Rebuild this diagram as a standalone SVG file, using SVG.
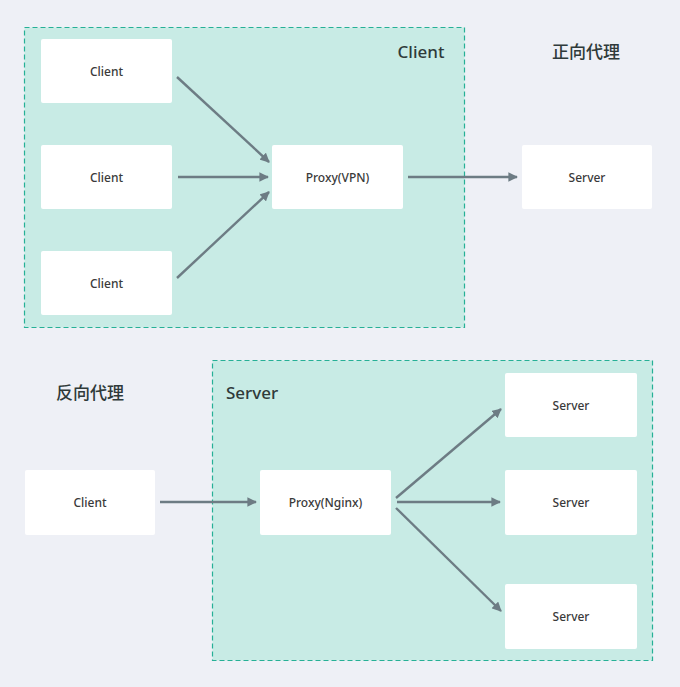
<svg xmlns="http://www.w3.org/2000/svg" width="680" height="687" viewBox="0 0 680 687">
<defs>
<style>
.grp{fill:#c8ebe5;stroke:#26b096;stroke-width:1.2;stroke-dasharray:5 3}
.box{fill:#ffffff}
.t{font-family:"Noto Sans","Noto Sans CJK SC",sans-serif;font-size:12px;fill:#3a3a3a;text-anchor:middle;dominant-baseline:central;font-weight:500}
.h{font-family:"Noto Sans","Noto Sans CJK SC",sans-serif;font-size:17px;fill:#2f3a3a;font-weight:500}
.c{stroke:#6d7c84;stroke-width:2.4;fill:none;marker-end:url(#ah)}
</style>
<marker id="ah" viewBox="0 0 10 10" refX="9" refY="5" markerWidth="4" markerHeight="4" orient="auto" markerUnits="strokeWidth">
<path d="M0,0 L10,5 L0,10 z" fill="#6d7c84"/>
</marker>
</defs>
<rect width="680" height="687" fill="#eef0f6"/>
<g id="group-client">
<rect class="grp" x="24.5" y="27.5" width="440" height="300"/>
<text class="h" x="421" y="58" text-anchor="middle">Client</text>
</g>
<g id="title-forward"><text class="h" x="586" y="58" text-anchor="middle">正向代理</text></g>
<g id="group-server">
<rect class="grp" x="212.5" y="360.5" width="440" height="300"/>
<text class="h" x="226" y="399">Server</text>
</g>
<g id="title-reverse"><text class="h" x="90" y="399" text-anchor="middle">反向代理</text></g>
<g id="c1"><rect class="box" x="41" y="39" width="131" height="64" rx="2"/><text class="t" x="106.5" y="71">Client</text></g>
<g id="c2"><rect class="box" x="41" y="145" width="131" height="64" rx="2"/><text class="t" x="106.5" y="177">Client</text></g>
<g id="c3"><rect class="box" x="41" y="251" width="131" height="64" rx="2"/><text class="t" x="106.5" y="283">Client</text></g>
<g id="proxy-vpn"><rect class="box" x="272" y="145" width="131" height="64" rx="2"/><text class="t" x="337.5" y="177">Proxy(VPN)</text></g>
<g id="server-top"><rect class="box" x="522" y="145" width="130" height="64" rx="2"/><text class="t" x="587" y="177">Server</text></g>
<g id="client-bottom"><rect class="box" x="25" y="470" width="130" height="65" rx="2"/><text class="t" x="90" y="502">Client</text></g>
<g id="proxy-nginx"><rect class="box" x="260" y="470" width="131" height="65" rx="2"/><text class="t" x="325.5" y="502">Proxy(Nginx)</text></g>
<g id="s1"><rect class="box" x="505" y="373" width="132" height="64" rx="2"/><text class="t" x="571" y="405">Server</text></g>
<g id="s2"><rect class="box" x="505" y="470" width="132" height="65" rx="2"/><text class="t" x="571" y="502">Server</text></g>
<g id="s3"><rect class="box" x="505" y="584" width="132" height="65" rx="2"/><text class="t" x="571" y="616">Server</text></g>
<g id="connectors">
<line class="c" x1="177" y1="77" x2="269" y2="162"/>
<line class="c" x1="178" y1="177" x2="268" y2="177"/>
<line class="c" x1="177" y1="278" x2="269" y2="192"/>
<line class="c" x1="408" y1="177" x2="517" y2="177"/>
<line class="c" x1="160" y1="502" x2="256" y2="502"/>
<line class="c" x1="396" y1="498" x2="501" y2="409"/>
<line class="c" x1="397" y1="502" x2="500" y2="502"/>
<line class="c" x1="396" y1="508" x2="501" y2="611"/>
</g>
</svg>
